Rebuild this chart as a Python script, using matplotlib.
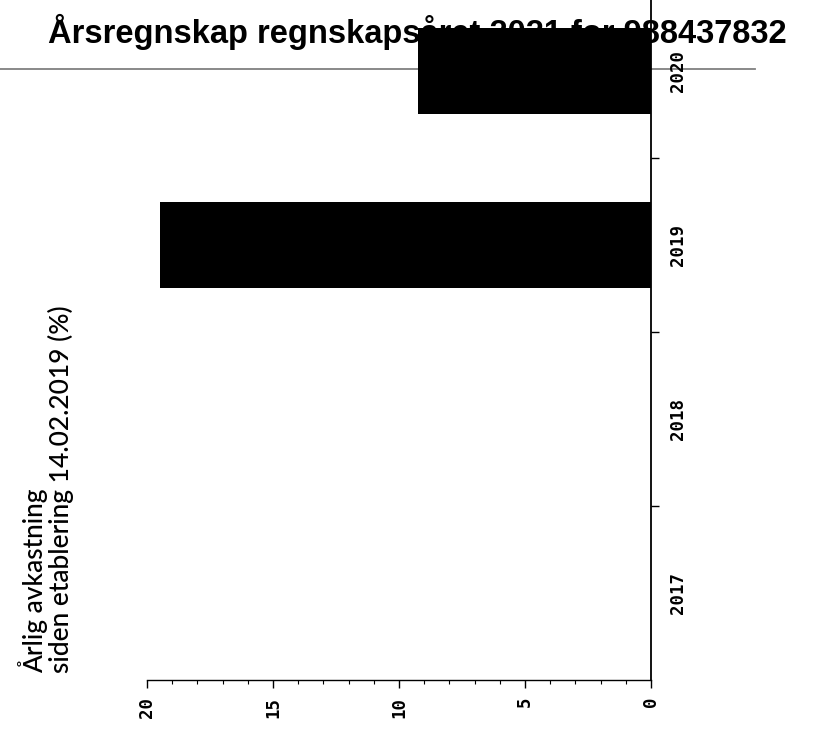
import matplotlib
matplotlib.use('Agg')
import matplotlib.pyplot as plt
from matplotlib.lines import Line2D

# data
years = ['2017', '2018', '2019', '2020']
avkastning = [0, 0, 19.5, 9.25]
xticks = [20, 15, 10, 5, 0]

title = 'Årsregnskap regnskapsåret 2021 for 988437832'
ylabel = 'Årlig avkastning\nsiden etablering 14.02.2019 (%)'

fig = plt.figure(figsize=(8.13, 7.29), dpi=100)
W, H = 813, 729

# axes runs past the top edge of the figure, like the original
left, right, bottom, top = 147, 651, 680, -16
ax = fig.add_axes([left / W, (H - bottom) / H, (right - left) / W, (bottom - top) / H])
ax.patch.set_visible(False)

pos = list(range(len(years)))
vals = [v if v > 0 else float('nan') for v in avkastning]
ax.barh(pos, vals, height=0.49, color='black', zorder=3)

ax.set_xlim(20, 0)
ax.set_ylim(-0.5, len(years) - 0.5)

for s in ['left', 'top']:
    ax.spines[s].set_visible(False)
ax.spines['right'].set_linewidth(1.3)
ax.spines['bottom'].set_linewidth(1.0)

tickfont = dict(fontfamily='DejaVu Sans Mono', fontweight='bold', fontsize=12.5)

# x axis: majors every 5, minors every 1
ax.set_xticks(xticks)
ax.set_xticklabels([str(t) for t in xticks], rotation=90, **tickfont)
ax.set_xticks(range(0, 21), minor=True)
ax.tick_params(axis='x', which='major', direction='out', length=6, width=1, pad=6)
ax.tick_params(axis='x', which='minor', direction='out', length=3, width=0.8)

# y axis on the right: ticks between the years, labels at the centres
ax.yaxis.tick_right()
ax.set_yticks([p + 0.5 for p in pos[:-1]])
ax.set_yticklabels([])
ax.set_yticks(pos, minor=True)
ax.set_yticklabels(years, minor=True, rotation=90, va='center', **tickfont)
ax.tick_params(axis='y', which='major', direction='out', length=6, width=1)
ax.tick_params(axis='y', which='minor', length=0, pad=13)

# title and rule sit underneath the bars
fig.text(417 / W, (H - 32) / H, title, ha='center', va='center',
         fontfamily='Liberation Sans', fontweight='bold', fontsize=23.5, zorder=-1)
fig.add_artist(Line2D([0, 755 / W], [(H - 69) / H] * 2, color='#808080',
                      linewidth=1.3, zorder=-1))

fig.text(46 / W, (H - 673) / H, ylabel, rotation=90, ha='center', va='bottom',
         multialignment='left', fontfamily='Lato', fontweight='medium',
         fontsize=19, linespacing=1.0)

plt.savefig('out.png', dpi=100)
plt.close()
